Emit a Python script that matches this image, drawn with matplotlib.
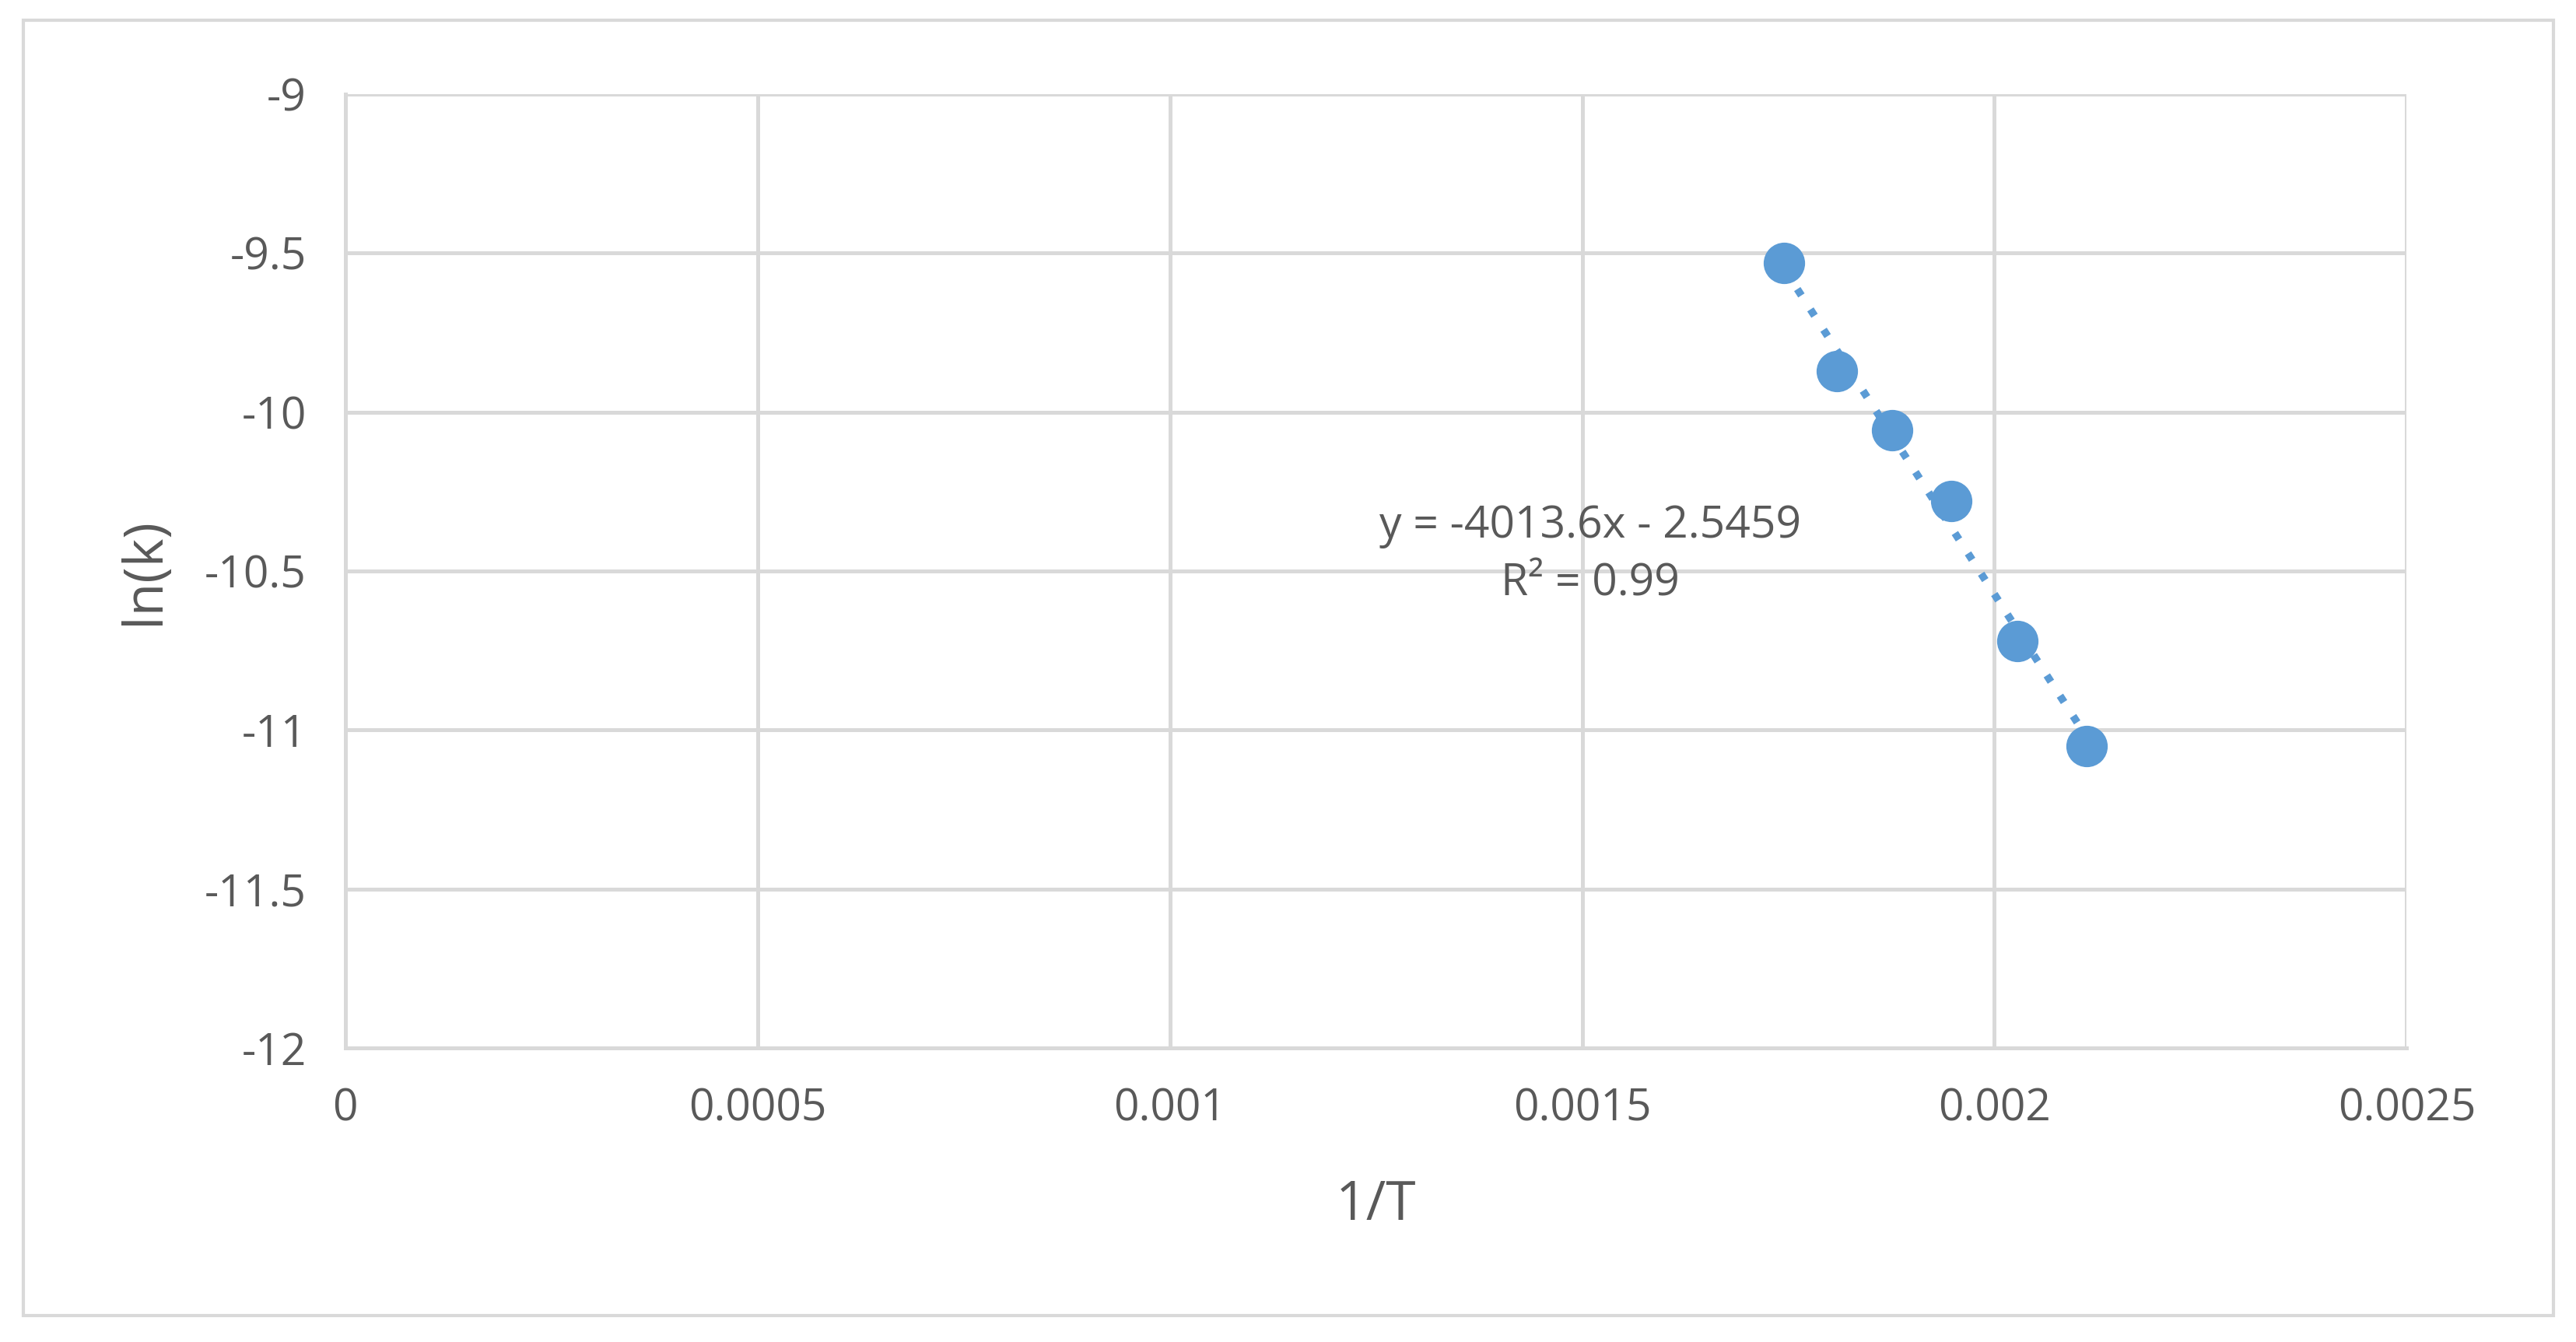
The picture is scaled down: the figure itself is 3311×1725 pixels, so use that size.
import matplotlib
matplotlib.use("Agg")
import matplotlib.pyplot as plt
import numpy as np
from matplotlib.patches import Rectangle

inv_T = [0.001745, 0.001809, 0.001876, 0.001948, 0.002028, 0.002112]
ln_k = [-9.532, -9.872, -10.058, -10.280, -10.719, -11.050]
slope, intercept = -4013.6, -2.5459
xticks = [0, 0.0005, 0.001, 0.0015, 0.002, 0.0025]
xticklabels = ["0", "0.0005", "0.001", "0.0015", "0.002", "0.0025"]
yticks = [-12, -11.5, -11, -10.5, -10, -9.5, -9]
yticklabels = ["-12", "-11.5", "-11", "-10.5", "-10", "-9.5", "-9"]

plt.rcParams['font.family'] = ['Open Sans', 'DejaVu Sans']
gray = '#595959'
fig = plt.figure(figsize=(16.56, 8.625), dpi=200)
fig.patches.append(Rectangle((0.009, 0.02), 0.982, 0.965, transform=fig.transFigure,
                             fill=False, edgecolor='#d9d9d9', lw=1.5))
ax = fig.add_axes([0.134, 0.219, 0.800, 0.711])
ax.set_xlim(0, 0.0025)
ax.set_ylim(-12, -9)
ax.set_xticks(xticks)
ax.set_xticklabels(xticklabels)
ax.set_yticks(yticks)
ax.set_yticklabels(yticklabels)
ax.grid(True, color='#d9d9d9', lw=1.8)
ax.set_axisbelow(True)
for s in ax.spines.values():
    s.set_visible(False)
ax.spines['left'].set_visible(True); ax.spines['left'].set_color('#d9d9d9'); ax.spines['left'].set_linewidth(1.8)
ax.spines['bottom'].set_visible(True); ax.spines['bottom'].set_color('#d9d9d9'); ax.spines['bottom'].set_linewidth(1.8)
ax.tick_params(length=0, labelsize=20.5, colors=gray, pad=18)
ax.set_xlabel("1/T", fontsize=25, color=gray, labelpad=22)
ax.set_ylabel("ln(k)", fontsize=25, color=gray, labelpad=15)

xs = np.array([min(inv_T), max(inv_T)])
ax.plot(xs, slope*xs + intercept, linestyle=(0, (1, 2.2)), color='#5b9bd5', lw=3.5, zorder=2)
ax.scatter(inv_T, ln_k, s=330, color='#5b9bd5', zorder=3)
ax.text(0.00151, -10.45, "y = -4013.6x - 2.5459\nR² = 0.99", fontsize=20.5, color=gray,
        ha='center', va='center', linespacing=1.4)
fig.savefig("out.png", dpi=200)
